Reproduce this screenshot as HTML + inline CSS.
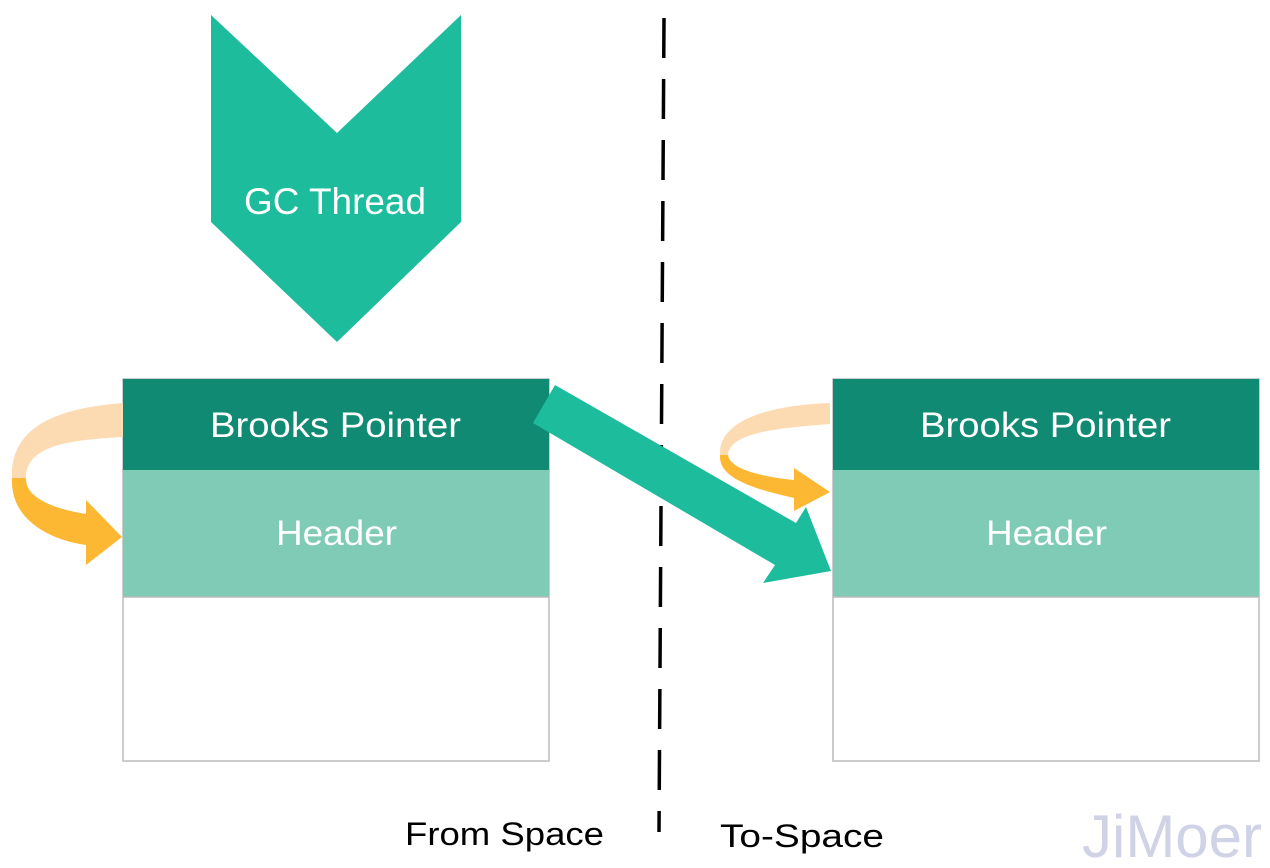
<!DOCTYPE html>
<html><head><style>
body{margin:0;background:#fff;}
svg{display:block;}
</style></head><body>
<svg width="1270" height="868" viewBox="0 0 1270 868" xmlns="http://www.w3.org/2000/svg">
<polygon points="211,15 337,133 461,15 461,222 337,342 211,222" fill="#1DBC9C"/>
<text x="244" y="214" font-family="Liberation Sans, sans-serif" font-size="37" fill="#fff" textLength="182" lengthAdjust="spacingAndGlyphs">GC Thread</text>

<line x1="664" y1="18" x2="659" y2="832" stroke="#000" stroke-width="3.5" stroke-dasharray="40 21"/>

<!-- left box -->
<rect x="123" y="379" width="426" height="382" fill="#fff" stroke="#bbb" stroke-width="1.5"/>
<rect x="123" y="379" width="426" height="91" fill="#118A73"/>
<rect x="123" y="470" width="426" height="127" fill="#7FCBB5"/>
<line x1="123" y1="597" x2="549" y2="597" stroke="#bbb" stroke-width="1.5"/>
<text x="210" y="437" font-family="Liberation Sans, sans-serif" font-size="35" fill="#fff" textLength="251" lengthAdjust="spacingAndGlyphs">Brooks Pointer</text>
<text x="276" y="545" font-family="Liberation Sans, sans-serif" font-size="35" fill="#fff" textLength="121" lengthAdjust="spacingAndGlyphs">Header</text>

<!-- right box -->
<rect x="833" y="379" width="426" height="382" fill="#fff" stroke="#bbb" stroke-width="1.5"/>
<rect x="833" y="379" width="426" height="91" fill="#118A73"/>
<rect x="833" y="470" width="426" height="127" fill="#7FCBB5"/>
<line x1="833" y1="597" x2="1259" y2="597" stroke="#bbb" stroke-width="1.5"/>
<text x="920" y="437" font-family="Liberation Sans, sans-serif" font-size="35" fill="#fff" textLength="251" lengthAdjust="spacingAndGlyphs">Brooks Pointer</text>
<text x="986" y="545" font-family="Liberation Sans, sans-serif" font-size="35" fill="#fff" textLength="121" lengthAdjust="spacingAndGlyphs">Header</text>

<!-- left curved arrow -->
<path d="M123,403 C60,408 10,425 12,478 L26,478 C26,445 70,440 123,437 Z" fill="#FDDBB2"/>
<path d="M12,478 C10,520 50,540 86,545 L86,565 L122,537 L86,500 L86,514 C60,510 25,500 26,478 Z" fill="#FDB833"/>

<!-- right curved arrow -->
<path d="M830,403 C770,405 718,420 720,455 L728,455 C730,432 780,428 830,424 Z" fill="#FDDBB2"/>
<path d="M720,455 C718,480 760,490 794,498 L794,511 L830,492 L794,468 L794,480 C765,477 730,470 728,455 Z" fill="#FDB833"/>

<!-- main arrow -->
<polygon points="555,385 533,423 775,565 763,583 831,571 806,507 796,523" fill="#1DBC9C"/>

<text x="405" y="845" font-family="Liberation Sans, sans-serif" font-size="32" fill="#000" textLength="199" lengthAdjust="spacingAndGlyphs">From Space</text>
<text x="720" y="847" font-family="Liberation Sans, sans-serif" font-size="32" fill="#000" textLength="164" lengthAdjust="spacingAndGlyphs">To-Space</text>
<text x="1082" y="857" font-family="Liberation Sans, sans-serif" font-size="60" fill="#D0D3E6">JiMoer</text>
</svg>
</body></html>
